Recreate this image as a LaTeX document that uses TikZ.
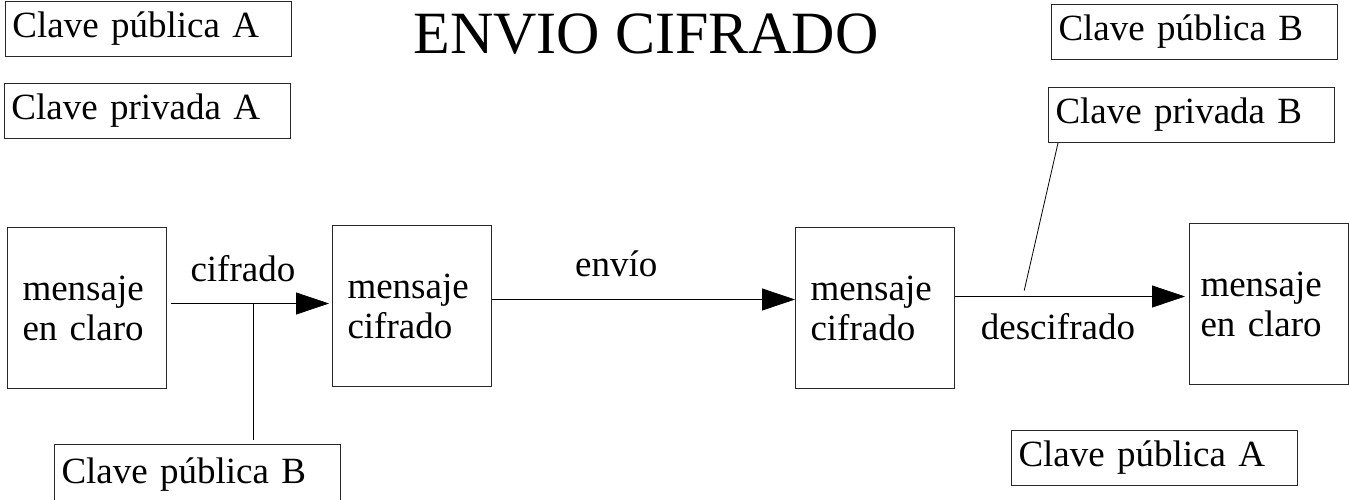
\documentclass[tikz,border=0pt]{standalone}
\usepackage{fontspec}
\setmainfont{Liberation Serif}
\usepackage{tikz}
\usetikzlibrary{arrows.meta,positioning}
\definecolor{linegray}{RGB}{40,40,40}

\begin{document}
\begin{tikzpicture}[x=1pt, y=-1pt,
    msgbox/.style={draw=linegray, line width=1pt, minimum height=161pt, text width=129pt, inner xsep=15pt, inner ysep=0pt, align=left, anchor=north west, font=\fontsize{37}{40}\selectfont},
    keybox/.style={draw=linegray, line width=1pt, minimum height=55pt, text width=272pt, inner xsep=7pt, inner ysep=0pt, align=left, anchor=north west, font=\fontsize{37}{40}\selectfont},
    flow/.style={draw=black, line width=0.8pt, -{Triangle[length=33pt, width=22pt]}},
    lbl/.style={inner sep=0pt, font=\fontsize{37}{40}\selectfont},
    link/.style={draw=black, line width=0.8pt}
]
\useasboundingbox (0,0) rectangle (1349,499);

% claves
\node[keybox] (pubA) at (5,1) {Clave pública A};
\node[keybox] (privA) at (4,83) {Clave privada A};
\node[keybox] (pubB) at (1051,4) {Clave pública B};
\node[keybox] (privB) at (1048,87) {Clave privada B};
\node[keybox, minimum height=60pt] (pubBlow) at (54,444) {Clave pública B};
\node[keybox] (pubAlow) at (1011,430) {Clave pública A};

\node[font=\fontsize{60}{60}\selectfont, anchor=base] (title) at (646,53) {ENVIO CIFRADO};

% mensajes
\node[msgbox] (m1) at (7,227) {mensaje\\en claro};
\node[msgbox] (m2) at (332,225) {mensaje\\cifrado};
\node[msgbox] (m3) at (795,227) {mensaje\\cifrado};
\node[msgbox, inner xsep=11pt, text width=137pt] (m4) at (1189,223) {mensaje\\en claro};

\draw[flow, shorten <=4pt, shorten >=3pt] ([yshift=4.5pt]m1.east) -- node[lbl, above=21pt, pos=0.46] (lcif) {cifrado} coordinate[pos=0.524] (c1) ([yshift=4.5pt]m1.east -| m2.west);
\draw[flow] ([yshift=6.5pt]m2.east) -- node[lbl, above=22pt, pos=0.41] (lenv) {envío} ([yshift=6.5pt]m2.east -| m3.west);
\draw[flow, shorten >=4pt] ([yshift=11.5pt]m3.east) -- node[lbl, below=17pt, pos=0.44] (ldes) {descifrado} coordinate[pos=0.29] (c3) ([yshift=11.5pt]m3.east -| m4.west);

\draw[link, shorten >=4pt] (c1) -- (c1 |- pubBlow.north);
\draw[link, shorten >=6pt] ([xshift=10pt]privB.south west) -- (c3);
\end{tikzpicture}
\end{document}
